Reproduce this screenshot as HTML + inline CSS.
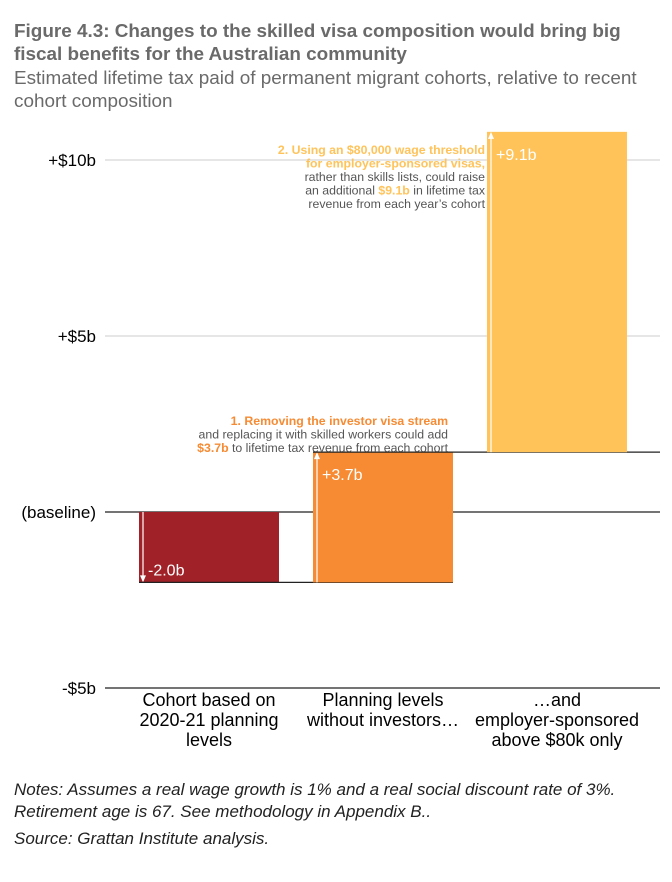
<!DOCTYPE html>
<html><head><meta charset="utf-8"><style>
body{margin:0;background:#fff;width:672px;height:882px;overflow:hidden;font-family:"Liberation Sans",Arial,sans-serif}
.t{position:absolute;left:14px;top:20px;font-size:18.9px;font-weight:bold;color:#6a6a6a;line-height:23px;width:630px}
.s{position:absolute;left:14px;top:67px;font-size:18.9px;color:#6a6a6a;line-height:23px;width:650px}
.n{position:absolute;left:14px;font-size:17px;font-style:italic;color:#222;line-height:22px}
</style></head><body>
<div class="t">Figure 4.3: Changes to the skilled visa composition would bring big fiscal benefits for the Australian community</div>
<div class="s">Estimated lifetime tax paid of permanent migrant cohorts, relative to recent cohort composition</div>
<svg width="672" height="882" style="position:absolute;left:0;top:0" id="svg"></svg>
<div class="n" style="top:779px">Notes: Assumes a real wage growth is 1% and a real social discount rate of 3%.<br>Retirement age is 67. See methodology in Appendix B..</div>
<div class="n" style="top:828px">Source: Grattan Institute analysis.</div>
<script>
const categories=["Cohort based on|2020-21 planning|levels","Planning levels|without investors…","…and|employer-sponsored|above $80k only"];
const changes=[-2.0,3.7,9.1];
const valueLabels=["-2.0b","+3.7b","+9.1b"];
const tickValues=[10,5,0,-5];
const tickLabels=["+$10b","+$5b","(baseline)","-$5b"];
const colors=["#a02128","#f68b33","#ffc35a"];
const NS="http://www.w3.org/2000/svg";
const svg=document.getElementById('svg');
const y=v=>512-v*35.2;
const bx=i=>139+i*174;
const BW=140;
function el(t,a,txt){const e=document.createElementNS(NS,t);for(const k in a)e.setAttribute(k,a[k]);if(txt!=null)e.textContent=txt;svg.appendChild(e);return e;}
tickValues.forEach((v,i)=>{
 const l=el('line',{x1:105,x2:660,y1:y(v),y2:y(v),stroke:v===0||v===-5?'#222':'#ccc','stroke-width':v===0||v===-5?1.2:1});
 
 
 const t=el('text',{x:96,y:y(v)+6,'text-anchor':'end','font-size':17,fill:'#000'},tickLabels[i]);
 
 
});
let cum=0;
changes.forEach((c,i)=>{
 const a=cum,b=cum+c;cum=b;
 const top=Math.min(y(a),y(b)),h=Math.abs(y(a)-y(b));
 const r=el('rect',{x:bx(i),y:top,width:BW,height:h,fill:colors[i]});
 
 
 const up=c>0;
 el('line',{x1:bx(i)+4,x2:bx(i)+4,y1:y(a),y2:y(b)+(up?6:-6),stroke:'#fff','stroke-width':1.2});
 const ty=y(b);
 el('path',{d:up?`M${bx(i)+1},${ty+7}L${bx(i)+4},${ty}L${bx(i)+7},${ty+7}Z`:`M${bx(i)+1},${ty-7}L${bx(i)+4},${ty}L${bx(i)+7},${ty-7}Z`,fill:'#fff'});
 const lt=el('text',{x:bx(i)+9,y:up?ty+28:ty-7,'font-size':16,fill:'#fff'},valueLabels[i]);
 
 
 if(i<changes.length-1){const cl=el('line',{x1:bx(i),x2:bx(i+1)+BW,y1:y(b),y2:y(b),stroke:'#222','stroke-width':1.2});
  }
 else{el('line',{x1:bx(i)+BW,x2:660,y1:y(a),y2:y(a),stroke:'#222','stroke-width':1.2});}
 categories[i].split('|').forEach((s,k)=>{const ct=el('text',{x:bx(i)+BW/2,y:706+k*20,'text-anchor':'middle','font-size':18,fill:'#000'},s);
  });
});
function ann(lines,x,y0,name){lines.forEach((ln,k)=>{const t=el('text',{x:x,y:y0+k*13.5,'text-anchor':'end','font-size':12.3,fill:'#555'});
 
 ln.forEach(([s,c,b])=>{const sp=document.createElementNS(NS,'tspan');sp.textContent=s;if(c){sp.setAttribute('fill',c);}if(b)sp.setAttribute('font-weight','bold');t.appendChild(sp);});});}
const Y='#ffc35a',O='#f68b33';
ann([[["2. Using an $80,000 wage threshold",Y,1]],[["for employer-sponsored visas,",Y,1]],[["rather than skills lists, could raise"]],[["an additional "],["$9.1b",Y,1],[" in lifetime tax"]],[["revenue from each year’s cohort"]]],485,154,'annotation-2');
ann([[["1.  Removing the investor visa stream",O,1]],[["and replacing it with skilled workers could add"]],[["$3.7b",O,1],[" to lifetime tax revenue from each cohort"]]],448,425,'annotation-1');
</script>
</body></html>
